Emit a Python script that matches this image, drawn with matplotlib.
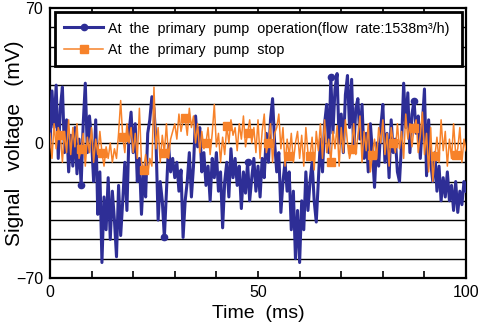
import numpy as np
import matplotlib
matplotlib.use("Agg")
import matplotlib.pyplot as plt

plt.rcParams['font.family'] = ['Liberation Sans', 'DejaVu Sans']

# sampled every 0.5 ms over 0-100 ms
time_ms = np.arange(201) * 0.5

pump_operation = [
    -2, 27, 8, 30, -8, 18, 29, -5, 12, -15,
    4, -12, 8, -16, 2, -22, 10, 31, -5, 14,
    2, -20, 12, -37, -15, -62, -28, -45, -18, -50,
    -25, -40, -59, -22, -48, -30, -10, -35, 5, 16,
    -5, 10, -20, -8, -37, -15, -28, 5, 12, 24,
    18, 0, -40, -20, -30, -49, -25, -1, -15, -8,
    -18, -10, -25, -14, -49, -30, -20, -5, -28, -12,
    14, -2, 8, -15, -5, -22, -12, -30, -8, -18,
    -5, -25, -15, -44, -20, -10, -28, -3, -18, -8,
    -22, -12, -34, -15, -26, -10, -30, -18, -8, -25,
    -12, -28, -8, -18, 5, -10, 12, 23, 0, -15,
    -5, -36, -20, -10, -25, -15, -45, -25, -60, -35,
    -62, -30, -45, -15, -35, -20, -10, -30, -41, -20,
    2, -15, 10, 20, -5, 34, 5, 28, 36, 0,
    15, -5, 25, 35, 8, 33, -5, 18, 23, 2,
    20, -8, 5, -15, 10, -5, -23, 0, -12, 8,
    20, -10, 5, -18, 12, -5, 2, -15, -20, 0,
    31, 8, 26, -5, 15, 22, 5, 14, -8, 10,
    28, -17, 12, -10, -20, -5, -25, -12, -30, -18,
    -28, -15, -30, -22, -35, -20, -36, -25, -32, -20,
    -25,
]

pump_stop = [
    5, -8, 10, -3, 8, 4, -10, 6, -5, 12,
    -6, 8, -2, 10, -8, -3, 5, -12, 3, -5,
    8, -10, 2, -6, 6, -5, -12, -2, -8, 0,
    -10, -3, -8, 5, 22, 3, -5, 10, 0, 8,
    -5, 5, -8, 18, -10, -14, -6, -16, -8, -12,
    29, -3, 8, -10, 4, -5, 10, -8, 2, 6,
    10, 2, 15, 6, 12, 13, 4, 18, 8, 14,
    0, 10, -5, 6, -3, 0, 8, -6, 5, 20,
    -2, 5, -10, 3, -6, 9, 0, 12, 4, 8,
    -4, 10, 2, 14, -2, 5, 12, 0, 8, -5,
    12, -8, 6, 15, -5, 0, 10, -10, 5, 8,
    15, -3, 8, -12, 2, -7, 5, -10, 0, 6,
    -8, 4, -12, 8, -5, -7, 3, -14, 6, -4,
    10, -8, 12, -5, 2, -10, 6, -3, 9, -12,
    8, -5, 12, 0, -8, -3, 10, -6, 4, 14,
    -10, 6, -4, 10, -15, -6, 2, -8, 8, 0,
    12, -6, 5, -12, 8, 0, -5, 10, -3, 6,
    -8, 15, 2, 10, -2, 8, 12, -5, 4, 16,
    -6, 5, -15, 8, -20, -7, 3, -10, 12, -4,
    6, -12, 2, -8, 10, -6, -3, 8, -10, 2,
    -4,
]

navy = '#2e2e96'
orange = '#f7822a'

fig = plt.figure(figsize=(4.8, 3.27), dpi=100)
ax = fig.add_axes([0.104, 0.15, 0.867, 0.8255])

for v in range(-60, 70, 10):
    ax.axhline(v, color='black', lw=1.0, zorder=1)

ax.plot(time_ms, pump_operation, color=navy, lw=2.2, marker='o', ms=4.5,
        markevery=(15, 40), zorder=3,
        label='At  the  primary  pump  operation(flow  rate:1538m\u00b3/h)')
ax.plot(time_ms, pump_stop, color=orange, lw=1.1, marker='s', ms=5.5,
        markevery=(5, 10), zorder=4,
        label='At  the  primary  pump  stop')

ax.set_xlim(0, 100)
ax.set_ylim(-70, 70)
ax.set_xticks([0, 50, 100])
ax.set_xticks(np.arange(0, 101, 10), minor=True)
ax.set_yticks([-70, 0, 70])
ax.tick_params(axis='x', which='both', direction='in', top=True, length=5, width=1.2)
ax.tick_params(axis='y', which='both', direction='in', length=0)
ax.tick_params(labelsize=11.5, pad=5)
for s in ax.spines.values():
    s.set_linewidth(1.6)

ax.set_xlabel('Time  (ms)', fontsize=14, labelpad=4)
ax.set_ylabel('Signal   voltage   (mV)', fontsize=15, labelpad=-6)

leg = ax.legend(loc='upper left', bbox_to_anchor=(0.012, 0.785, 0.978, 0.2),
                mode='expand', borderaxespad=0, fontsize=10.3, frameon=True,
                fancybox=False, framealpha=1, edgecolor='black',
                handlelength=2.7, borderpad=0.66, labelspacing=0.52,
                handletextpad=0.35)
leg.get_frame().set_linewidth(2.0)
leg.set_zorder(10)

fig.savefig('out.png', dpi=100)
